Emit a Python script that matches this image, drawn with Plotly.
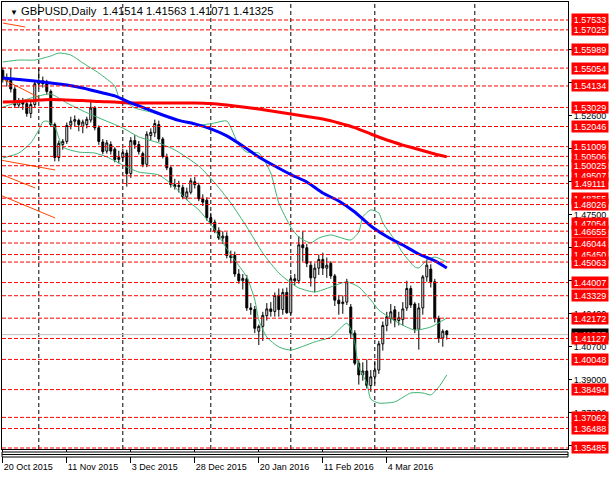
import plotly.graph_objects as go

# ---------------- data ----------------
tick_idx = [0, 16, 32, 48, 64, 80, 96]
tick_labels = ["20 Oct 2015", "11 Nov 2015", "3 Dec 2015", "28 Dec 2015",
               "20 Jan 2016", "11 Feb 2016", "4 Mar 2016"]
month_start_idx = [9, 30, 52, 72, 93, 118]

opens = [1.5494, 1.5438, 1.5450, 1.5398, 1.5315, 1.5338, 1.5322, 1.5272, 1.5318, 1.5425,
         1.5440, 1.5425, 1.5385, 1.5215, 1.5045, 1.5112, 1.5128, 1.5212, 1.5232, 1.5236,
         1.5205, 1.5215, 1.5238, 1.5300, 1.5198, 1.5125, 1.5078, 1.5112, 1.5088, 1.5035,
         1.5045, 1.5068, 1.4962, 1.5132, 1.5112, 1.5065, 1.5010, 1.5158, 1.5172, 1.5215,
         1.5140, 1.5045, 1.4992, 1.4905, 1.4895, 1.4890, 1.4842, 1.4866, 1.4920, 1.4900,
         1.4832, 1.4825, 1.4735, 1.4712, 1.4668, 1.4630, 1.4640, 1.4530, 1.4540, 1.4445,
         1.4410, 1.4420, 1.4270, 1.4262, 1.4150, 1.4175, 1.4230, 1.4265, 1.4252, 1.4335,
         1.4262, 1.4350, 1.4245, 1.4420, 1.4410, 1.4595, 1.4580, 1.4490, 1.4425, 1.4475,
         1.4520, 1.4475, 1.4500, 1.4435, 1.4310, 1.4292, 1.4300, 1.4275, 1.4140, 1.3985,
         1.3925, 1.3945, 1.3870, 1.3915, 1.3950, 1.4085, 1.4180, 1.4215, 1.4260, 1.4205,
         1.4210, 1.4270, 1.4370, 1.4290, 1.4160, 1.4270, 1.4430, 1.4470, 1.4405, 1.4215,
         1.4115, 1.41514]
highs = [1.5509, 1.5478, 1.5505, 1.5410, 1.5352, 1.5352, 1.5340, 1.5335, 1.5440, 1.5505,
         1.5462, 1.5445, 1.5395, 1.5225, 1.5132, 1.5140, 1.5225, 1.5255, 1.5262, 1.5245,
         1.5240, 1.5255, 1.5335, 1.5310, 1.5210, 1.5140, 1.5135, 1.5128, 1.5098, 1.5080,
         1.5090, 1.5085, 1.5150, 1.5160, 1.5130, 1.5075, 1.5180, 1.5195, 1.5240, 1.5235,
         1.5150, 1.5065, 1.5000, 1.4935, 1.4925, 1.4905, 1.4890, 1.4940, 1.4945, 1.4915,
         1.4855, 1.4840, 1.4760, 1.4725, 1.4685, 1.4665, 1.4660, 1.4565, 1.4560, 1.4470,
         1.4445, 1.4440, 1.4295, 1.4280, 1.4185, 1.4250, 1.4295, 1.4300, 1.4350, 1.4370,
         1.4370, 1.4375, 1.4440, 1.4445, 1.4640, 1.4665, 1.4600, 1.4510, 1.4500, 1.4545,
         1.4555, 1.4530, 1.4510, 1.4445, 1.4335, 1.4335, 1.4420, 1.4290, 1.4155, 1.4000,
         1.3990, 1.4005, 1.3950, 1.3990, 1.4100, 1.4200, 1.4250, 1.4290, 1.4280, 1.4250,
         1.4300, 1.4410, 1.4385, 1.4300, 1.4295, 1.4440, 1.4520, 1.4495, 1.4420, 1.4230,
         1.4160, 1.41563]
lows = [1.5431, 1.5410, 1.5380, 1.5302, 1.5300, 1.5290, 1.5255, 1.5248, 1.5305, 1.5400,
        1.5405, 1.5370, 1.5205, 1.5025, 1.5025, 1.5085, 1.5115, 1.5190, 1.5205, 1.5180,
        1.5170, 1.5195, 1.5225, 1.5185, 1.5110, 1.5062, 1.5065, 1.5060, 1.5020, 1.5015,
        1.5025, 1.4895, 1.4940, 1.5090, 1.5060, 1.4995, 1.4995, 1.5135, 1.5150, 1.5125,
        1.5040, 1.4980, 1.4890, 1.4880, 1.4865, 1.4830, 1.4825, 1.4855, 1.4885, 1.4820,
        1.4795, 1.4720, 1.4695, 1.4655, 1.4620, 1.4600, 1.4525, 1.4500, 1.4430, 1.4395,
        1.4365, 1.4255, 1.4235, 1.4140, 1.4079, 1.4100, 1.4205, 1.4225, 1.4225, 1.4225,
        1.4235, 1.4240, 1.4235, 1.4385, 1.4395, 1.4510, 1.4480, 1.4380, 1.4350, 1.4440,
        1.4440, 1.4425, 1.4420, 1.4280, 1.4235, 1.4240, 1.4285, 1.4110, 1.3975, 1.3875,
        1.3895, 1.3855, 1.3838, 1.3880, 1.3930, 1.4050, 1.4150, 1.4190, 1.4170, 1.4180,
        1.4180, 1.4255, 1.4270, 1.4140, 1.4055, 1.4235, 1.4405, 1.4375, 1.4195, 1.4090,
        1.4070, 1.41071]
closes = [1.5446, 1.5455, 1.5398, 1.5315, 1.5338, 1.5320, 1.5272, 1.5318, 1.5425, 1.5440,
          1.5425, 1.5385, 1.5215, 1.5045, 1.5118, 1.5128, 1.5210, 1.5232, 1.5240, 1.5215,
          1.5228, 1.5242, 1.5300, 1.5198, 1.5128, 1.5075, 1.5120, 1.5078, 1.5035, 1.5045,
          1.5070, 1.4962, 1.5132, 1.5112, 1.5075, 1.5010, 1.5165, 1.5175, 1.5220, 1.5140,
          1.5050, 1.4992, 1.4905, 1.4895, 1.4900, 1.4842, 1.4868, 1.4925, 1.4905, 1.4832,
          1.4815, 1.4735, 1.4710, 1.4665, 1.4630, 1.4640, 1.4540, 1.4540, 1.4445, 1.4410,
          1.4422, 1.4270, 1.4262, 1.4165, 1.4175, 1.4232, 1.4265, 1.4252, 1.4335, 1.4262,
          1.4350, 1.4245, 1.4420, 1.4410, 1.4595, 1.4580, 1.4500, 1.4425, 1.4475, 1.4520,
          1.4475, 1.4490, 1.4435, 1.4310, 1.4292, 1.4300, 1.4405, 1.4140, 1.3985, 1.3925,
          1.3945, 1.3870, 1.3915, 1.3950, 1.4085, 1.4180, 1.4225, 1.4250, 1.4205, 1.4220,
          1.4265, 1.4370, 1.4285, 1.4160, 1.4270, 1.4430, 1.4490, 1.4405, 1.4215, 1.4115,
          1.4150, 1.41325]
bar_idx = list(range(len(opens)))

ma_idx = [0, 4, 8, 12, 16, 20, 24, 28, 32, 36, 40, 44, 48, 52, 56, 60, 64, 68, 72, 76,
          80, 84, 88, 92, 96, 100, 104, 108, 111]
ma_blue = [1.5455, 1.5447, 1.5439, 1.5429, 1.5418, 1.5403, 1.5382, 1.5362, 1.5326, 1.5295,
           1.5264, 1.5236, 1.5218, 1.5192, 1.5156, 1.5104, 1.5048, 1.5001, 1.4957, 1.4919,
           1.4862, 1.4821, 1.4764, 1.4692, 1.4638, 1.4594, 1.4548, 1.4512, 1.4476]
ma_red = [1.5331, 1.5333, 1.5339, 1.5344, 1.5341, 1.5339, 1.5333, 1.5331, 1.5326, 1.5326,
          1.5326, 1.5326, 1.5326, 1.5323, 1.5315, 1.5305, 1.5295, 1.5282, 1.5269, 1.5256,
          1.5243, 1.5223, 1.5199, 1.5166, 1.5135, 1.5109, 1.5086, 1.5063, 1.5048]

bb_up_idx = [0, 4, 8, 12, 14, 17, 20, 24, 28, 29, 31, 33, 37, 41, 45, 49, 53, 56, 59, 61,
             64, 65, 67, 69, 72, 74, 77, 79, 82, 84, 87, 89, 90, 92, 94, 95, 98, 100, 103,
             104, 106, 108, 111]
bb_up = [1.5537, 1.5547, 1.5547, 1.5568, 1.5583, 1.5573, 1.5532, 1.5480, 1.5413, 1.5357,
         1.5326, 1.5300, 1.5279, 1.5254, 1.5233, 1.5212, 1.5223, 1.5233, 1.5109, 1.5073,
         1.5068, 1.5042, 1.4965, 1.4811, 1.4687, 1.4635, 1.4605, 1.4630, 1.4646, 1.4635,
         1.4620, 1.4661, 1.4739, 1.4775, 1.4759, 1.4708, 1.4620, 1.4553, 1.4481, 1.4476,
         1.4517, 1.4532, 1.4507]
bb_mid_idx = [0, 4, 8, 12, 16, 20, 24, 30, 34, 39, 43, 49, 53, 57, 61, 65, 69, 72, 74, 78,
              82, 86, 89, 92, 94, 99, 103, 107, 111]
bb_mid = [1.5305, 1.5331, 1.5357, 1.5372, 1.5326, 1.5285, 1.5249, 1.5197, 1.5151, 1.5120,
          1.5084, 1.5001, 1.4914, 1.4811, 1.4687, 1.4553, 1.4450, 1.4399, 1.4373, 1.4352,
          1.4378, 1.4404, 1.4378, 1.4311, 1.4259, 1.4192, 1.4156, 1.4172, 1.4218]
bb_low_idx = [0, 4, 7, 9, 10, 11, 13, 15, 19, 23, 26, 30, 34, 39, 43, 46, 49, 53, 57, 61,
              63, 64, 66, 69, 72, 78, 82, 86, 87, 88, 89, 91, 92, 94, 98, 102, 105, 107,
              109, 111]
bb_low = [1.5042, 1.5068, 1.5120, 1.5187, 1.5228, 1.5233, 1.5202, 1.5099, 1.5073, 1.5068,
          1.5048, 1.5006, 1.4970, 1.4955, 1.4893, 1.4826, 1.4775, 1.4672, 1.4543, 1.4429,
          1.4311, 1.4208, 1.4120, 1.4069, 1.4053, 1.4095, 1.4120, 1.4192, 1.4160, 1.4090,
          1.3966, 1.3883, 1.3800, 1.3780, 1.3786, 1.3832, 1.3832, 1.3822, 1.3863, 1.3925]

# short orange-red line remnants at the left edge: [start, end]
seg_idx = [[0.0, 5.6], [0.0, 8.8], [-0.7, 13.1], [-0.7, 8.1], [-0.7, 13.1]]
seg_price = [[1.57378, 1.57172], [1.54494, 1.53566], [1.50321, 1.49806],
             [1.49600, 1.48879], [1.48518, 1.47333]]

level_prices = [1.57533, 1.57025, 1.55989, 1.55054, 1.54134, 1.53029, 1.52046, 1.51009,
                1.50506, 1.50025, 1.49507, 1.49111, 1.48355, 1.48026, 1.47054, 1.46655,
                1.46044, 1.45450, 1.45063, 1.44007, 1.43329, 1.42172, 1.41127, 1.40048,
                1.38494, 1.37062, 1.36488, 1.35485]
axis_tick_prices = [1.560, 1.543, 1.526, 1.509, 1.492, 1.475, 1.458, 1.441, 1.424, 1.407,
                    1.390, 1.373, 1.356]
bid_price = 1.41325
header_text = "GBPUSD,Daily\u00a0 1.41514 1.41563 1.41071 1.41325"

# ---------------- figure ----------------
FONT = "Liberation Sans, Arial, sans-serif"
fig = go.Figure()

fig.add_trace(go.Candlestick(
    x=bar_idx, open=opens, high=highs, low=lows, close=closes,
    increasing=dict(line=dict(color="black", width=1), fillcolor="white"),
    decreasing=dict(line=dict(color="black", width=1), fillcolor="black"),
    whiskerwidth=0, showlegend=False, hoverinfo="skip"))

for xs, ys in [(bb_up_idx, bb_up), (bb_mid_idx, bb_mid), (bb_low_idx, bb_low)]:
    fig.add_trace(go.Scatter(x=xs, y=ys, mode="lines", hoverinfo="skip",
                             line=dict(color="#3CB371", width=1, shape="spline", smoothing=0.6)))

for xs, ys in zip(seg_idx, seg_price):
    fig.add_trace(go.Scatter(x=xs, y=ys, mode="lines", hoverinfo="skip",
                             line=dict(color="#FF4500", width=1)))

fig.add_trace(go.Scatter(x=ma_idx, y=ma_red, mode="lines", hoverinfo="skip",
                         line=dict(color="#FF0000", width=3, shape="spline", smoothing=0.5)))
fig.add_trace(go.Scatter(x=ma_idx, y=ma_blue, mode="lines", hoverinfo="skip",
                         line=dict(color="#0000FF", width=3, shape="spline", smoothing=0.5)))

shapes = []
for i in month_start_idx:
    shapes.append(dict(type="line", xref="x", yref="paper", x0=i, x1=i, y0=0, y1=1,
                       line=dict(color="black", width=1, dash="4px,3px"), layer="below"))
shapes.append(dict(type="line", xref="paper", yref="y", x0=0, x1=1, y0=bid_price, y1=bid_price,
                   line=dict(color="#C0C0C0", width=1), layer="below"))
for p in level_prices:
    shapes.append(dict(type="line", xref="paper", yref="y", x0=0, x1=1, y0=p, y1=p,
                       line=dict(color="#FF0000", width=1, dash="4px,2px"), layer="above"))
# thin empty strip under the main window
px = 1.0 / 447
shapes.append(dict(type="rect", xref="paper", yref="paper", x0=0, x1=1, y0=-8 * px, y1=-3 * px,
                   fillcolor="white", line=dict(color="black", width=1), layer="above"))
shapes.append(dict(type="line", xref="paper", yref="paper", x0=0, x1=1, y0=-5.5 * px, y1=-5.5 * px,
                   line=dict(color="black", width=1), layer="above"))

annotations = [
    dict(xref="paper", yref="paper", x=0, y=1, xanchor="left", yanchor="top", xshift=6, yshift=-4,
         text="\u25BC", showarrow=False, font=dict(family=FONT, size=8, color="black")),
    dict(xref="paper", yref="paper", x=0, y=1, xanchor="left", yanchor="top", xshift=17, yshift=-1,
         text=header_text, showarrow=False, font=dict(family=FONT, size=11.2, color="black")),
]
labels = [(p, "#FF0000") for p in level_prices] + [(bid_price, "#000000")]
labels.sort(key=lambda t: -t[0])
for p, col in labels:
    annotations.append(dict(xref="paper", yref="y", x=1, y=p, xanchor="left", yanchor="middle",
                            xshift=3, text="%.5f" % p, showarrow=False, bgcolor=col,
                            width=35, height=10, borderpad=0.5, align="center",
                            font=dict(family=FONT, size=9, color="white")))

fig.update_layout(
    width=611, height=479, margin=dict(l=2, r=43, t=2, b=30, autoexpand=False),
    paper_bgcolor="white", plot_bgcolor="white", showlegend=False,
    font=dict(family=FONT, size=9, color="black"),
    shapes=shapes, annotations=annotations,
    xaxis=dict(range=[-0.2, 141.3], showgrid=False, zeroline=False, showline=True,
               linecolor="black", linewidth=1, mirror=True, tickmode="array",
               tickvals=tick_idx, ticktext=tick_labels, ticks="outside", ticklen=13,
               tickcolor="black", ticklabelposition="outside right", ticklabelstandoff=9,
               automargin=False, rangeslider=dict(visible=False), fixedrange=True),
    yaxis=dict(range=[1.35433, 1.58460], side="right", showgrid=False, zeroline=False,
               showline=True, linecolor="black", linewidth=1, mirror=True, tickmode="array",
               tickvals=axis_tick_prices, ticktext=["%.5f" % v for v in axis_tick_prices],
               ticks="outside", ticklen=3, tickcolor="black", automargin=False, fixedrange=True),
)

fig.write_html("out.html", config={"displayModeBar": False, "staticPlot": True},
               post_script="document.body.style.margin='0';document.body.style.overflow='hidden';")
